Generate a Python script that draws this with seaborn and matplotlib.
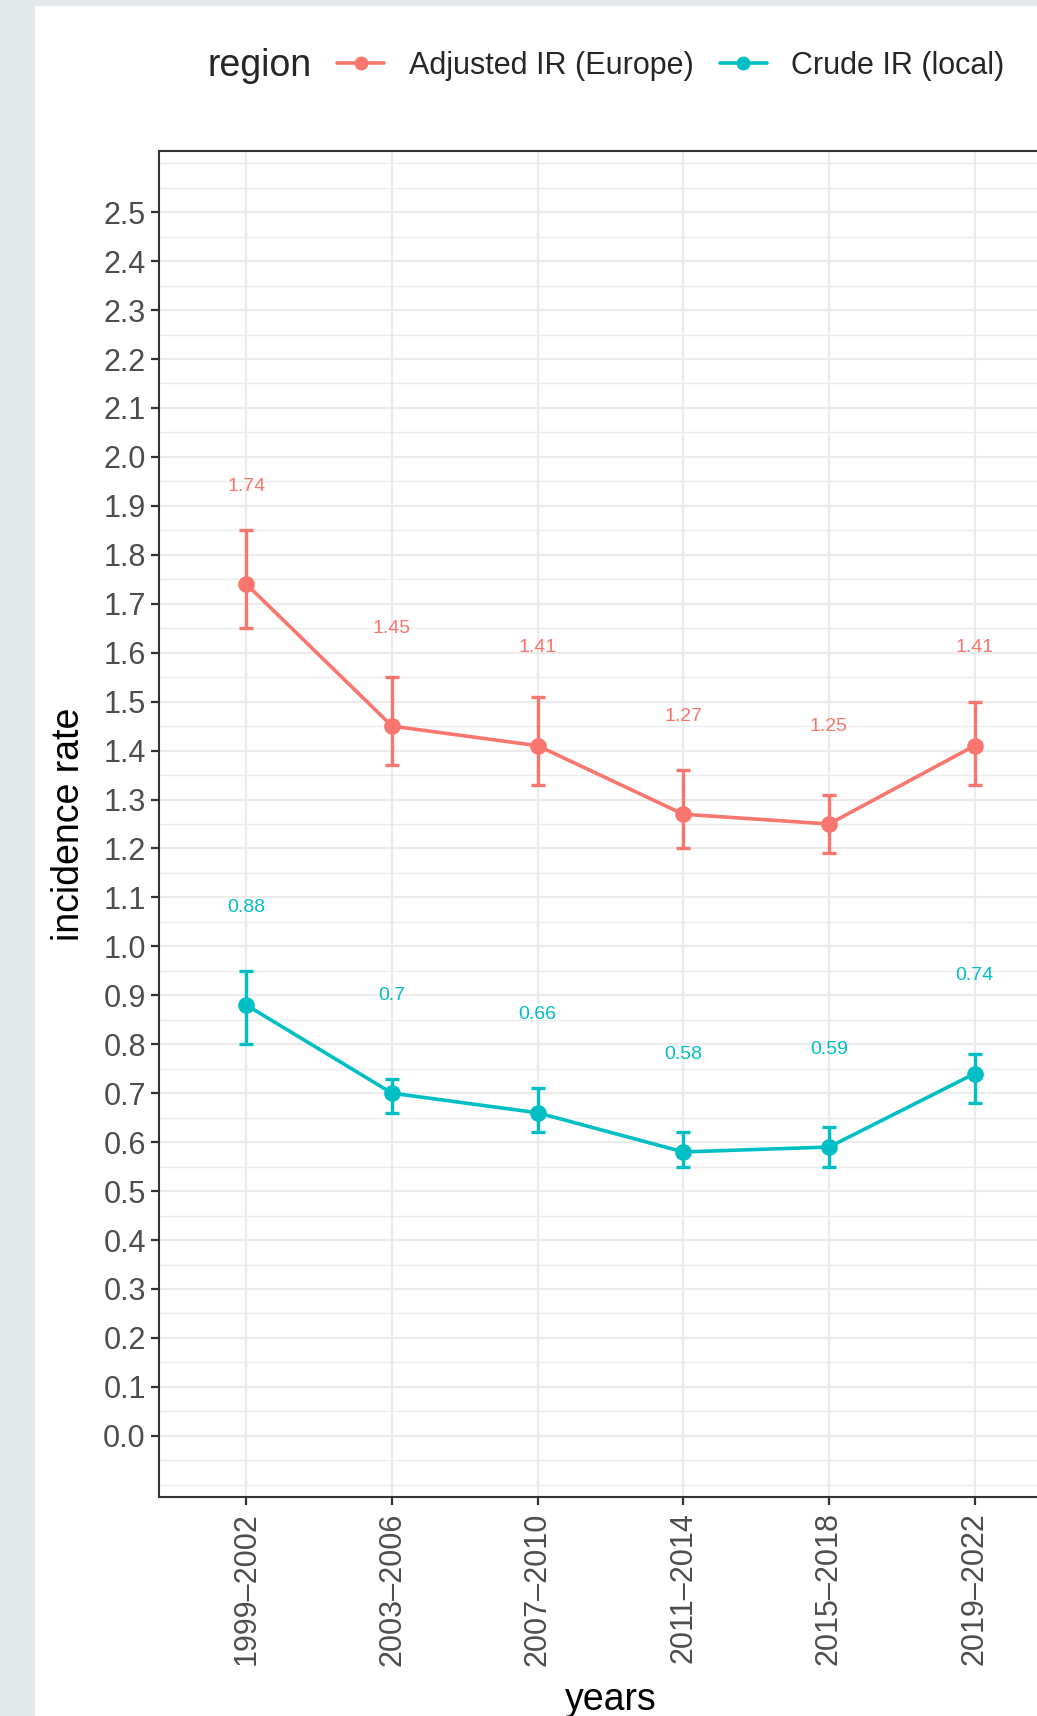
import numpy as np
import pandas as pd
import matplotlib
matplotlib.use("Agg")
import matplotlib.pyplot as plt
from matplotlib.lines import Line2D
from matplotlib.patches import Rectangle
from matplotlib.ticker import MultipleLocator, FixedLocator
import seaborn as sns

# data
years = ["1999\u20132002", "2003\u20132006", "2007\u20132010",
         "2011\u20132014", "2015\u20132018", "2019\u20132022"]
regions = ["Adjusted IR (Europe)", "Crude IR (local)"]
adj_ir = [1.74, 1.45, 1.41, 1.27, 1.25, 1.41]
adj_lo = [1.65, 1.37, 1.33, 1.20, 1.19, 1.33]
adj_hi = [1.85, 1.55, 1.51, 1.36, 1.31, 1.50]
crude_ir = [0.88, 0.70, 0.66, 0.58, 0.59, 0.74]
crude_lo = [0.80, 0.66, 0.62, 0.55, 0.55, 0.68]
crude_hi = [0.95, 0.73, 0.71, 0.62, 0.63, 0.78]
y_ticks = [round(v * 0.1, 1) for v in range(0, 26)]

colors = {"Adjusted IR (Europe)": "#F8766D", "Crude IR (local)": "#00BFC4"}

xpos = np.arange(len(years))
df = pd.DataFrame({
    "years": years * 2,
    "x": np.concatenate([xpos, xpos]),
    "region": [regions[0]] * 6 + [regions[1]] * 6,
    "rate": adj_ir + crude_ir,
    "lo": adj_lo + crude_lo,
    "hi": adj_hi + crude_hi,
})

sns.set_theme(style="white")
plt.rcParams["font.family"] = ["Liberation Sans", "DejaVu Sans"]

fig = plt.figure(figsize=(10.37, 17.16), dpi=100)
fig.patch.set_facecolor("white")
# screenshot frame
fig.patches.append(Rectangle((0, 0), 34 / 1037, 1, transform=fig.transFigure,
                             color="#E4E9EC", zorder=0))
fig.patches.append(Rectangle((0, 1 - 5 / 1716), 1, 5 / 1716, transform=fig.transFigure,
                             color="#E4E9EC", zorder=0))

ax = fig.add_axes([159 / 1037, 219 / 1716, 903 / 1037, 1346 / 1716])

for reg in regions:
    d = df[df["region"] == reg]
    ax.errorbar(d["x"], d["rate"], yerr=[d["rate"] - d["lo"], d["hi"] - d["rate"]],
                fmt="none", ecolor=colors[reg], elinewidth=2.4, capsize=5,
                capthick=2.4, zorder=3)
    for xi, yi in zip(d["x"], d["rate"]):
        ax.text(xi, yi + 0.2, f"{yi:g}", color=colors[reg], fontsize=14,
                ha="center", va="center", zorder=5)

sns.lineplot(data=df, x="x", y="rate", hue="region", palette=colors,
             marker="o", markersize=12, markeredgewidth=0, linewidth=2.6,
             legend=False, ax=ax, zorder=4)

ax.set_xlim(-0.6, 5.6)
ax.set_ylim(-0.125, 2.625)
ax.xaxis.set_major_locator(FixedLocator(xpos))
ax.set_xticklabels(years, rotation=90, fontsize=22, color="#4D4D4D")
ax.yaxis.set_major_locator(FixedLocator(y_ticks))
ax.set_yticklabels([f"{v:.1f}" for v in y_ticks], fontsize=22, color="#4D4D4D")
ax.yaxis.set_minor_locator(MultipleLocator(0.05))

ax.grid(True, which="major", color="#EBEBEB", linewidth=1.6)
ax.grid(True, which="minor", axis="y", color="#EBEBEB", linewidth=1.0)
ax.set_axisbelow(True)
ax.tick_params(axis="both", which="major", direction="out", length=6, width=1.6,
               color="#333333", left=True, bottom=True)
ax.tick_params(axis="y", which="major", pad=3.5)
ax.tick_params(axis="x", which="major", pad=5)
ax.tick_params(axis="y", which="minor", left=False)
for s in ax.spines.values():
    s.set_color("#333333")
    s.set_linewidth(1.5)

ax.set_ylabel("incidence rate", fontsize=27, color="black")
ax.yaxis.set_label_coords(-0.0997, 0.5)
ax.yaxis.label.set_verticalalignment("center")
ax.set_xlabel("years", fontsize=27, color="black")
ax.xaxis.set_label_coords(0.5, -0.1508)
ax.xaxis.label.set_verticalalignment("center")

# legend on top
fig.text(208 / 1037, 1 - 66 / 1716, "region", fontsize=27, ha="left", va="center")
handles = [Line2D([0], [0], color=colors[r], linewidth=2.6, marker="o",
                  markersize=10, markeredgewidth=0) for r in regions]
fig.legend(handles, regions, loc="center left", ncol=2, frameon=False,
           bbox_to_anchor=(337 / 1037, 1 - 66 / 1716), fontsize=22,
           handlelength=1.55, handletextpad=0.8, columnspacing=0.85,
           borderpad=0, borderaxespad=0)

fig.savefig("out.png", dpi=100)
